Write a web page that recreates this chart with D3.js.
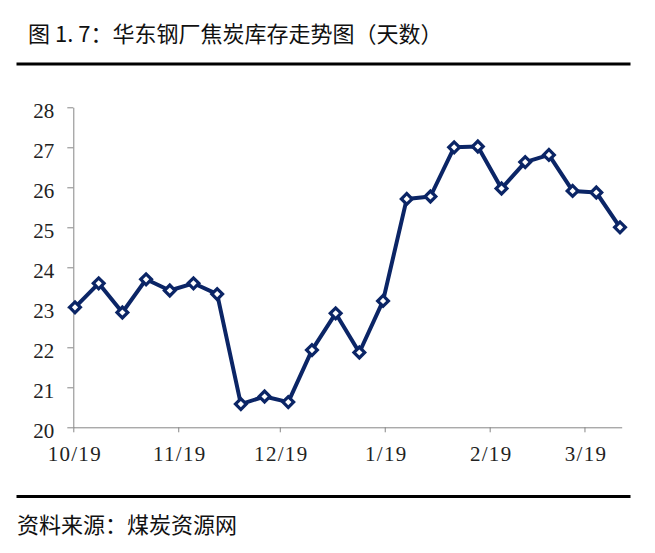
<!DOCTYPE html>
<html>
<head>
<meta charset="utf-8">
<script src="https://cdn.jsdelivr.net/npm/d3@7"></script>
<style>
  body { margin: 0; background: #fff; }
  .axis path, .axis line { stroke: #868686; }
  .axis text { font-family: "Liberation Serif", serif; font-size: 21px; fill: #222; }
  .x-axis text { letter-spacing: 1.3px; }
</style>
</head>
<body>
<div id="chart-area"></div>
<script>
// weekly readings (days of coke inventory)
let dates = ["2018-10-19", "2018-10-26", "2018-11-02", "2018-11-09", "2018-11-16", "2018-11-23",
    "2018-11-30", "2018-12-07", "2018-12-14", "2018-12-21", "2018-12-28", "2019-01-04",
    "2019-01-11", "2019-01-18", "2019-01-25", "2019-02-01", "2019-02-08", "2019-02-15",
    "2019-02-22", "2019-03-01", "2019-03-08", "2019-03-15", "2019-03-22", "2019-03-29"];
let values = [23.0, 23.6, 22.87, 23.7, 23.42, 23.6, 23.33, 20.58, 20.77, 20.63, 21.93, 22.85,
    21.87, 23.16, 25.71, 25.77, 27.0, 27.02, 25.97, 26.63, 26.81, 25.91, 25.87, 25.0];

let tickDates = ["2018-10-19", "2018-11-19", "2018-12-19", "2019-01-19", "2019-02-19", "2019-03-19"];
let tickLabels = ["10/19", "11/19", "12/19", "1/19", "2/19", "3/19"];
let yTicks = [20, 21, 22, 23, 24, 25, 26, 27, 28];

let parse = d3.timeParse("%Y-%m-%d");
let data = dates.map((d, i) => ({ date: parse(d), value: values[i] }));

let width = 655;
let height = 553;
let navy = "#0b2566";

let svg = d3.select("#chart-area")
    .append("svg")
    .attr("width", width)
    .attr("height", height);

// title + rules
svg.append("text")
    .attr("x", 28)
    .attr("y", 42)
    .style("font-family", "'Noto Sans CJK SC', sans-serif")
    .style("font-size", "22px")
    .attr("fill", "#111")
    .text("图 1. 7：华东钢厂焦炭库存走势图（天数）");

svg.append("rect").attr("x", 16.5).attr("y", 62.5).attr("width", 614).attr("height", 3).attr("fill", "#000");
svg.append("rect").attr("x", 16.5).attr("y", 495).attr("width", 614).attr("height", 3).attr("fill", "#000");

svg.append("text")
    .attr("x", 17)
    .attr("y", 533)
    .style("font-family", "'Noto Sans CJK SC', sans-serif")
    .style("font-size", "22px")
    .attr("fill", "#111")
    .text("资料来源：煤炭资源网");

let x = d3.scaleTime()
    .domain([parse("2018-10-19"), parse("2019-03-30")])
    .range([73.3, 621.7]);

let y = d3.scaleLinear()
    .domain([20, 28])
    .range([427.3, 107.3]);

// X axis
let xAxis = d3.axisBottom(x)
    .tickValues(tickDates.map(parse))
    .tickFormat((d, i) => tickLabels[i])
    .tickSizeInner(5)
    .tickSizeOuter(0)
    .tickPadding(14);

svg.append("g")
    .attr("class", "axis x-axis")
    .attr("transform", "translate(0," + y(20) + ")")
    .call(xAxis)
    .selectAll("text")
    .attr("dx", "1px");

// Y axis
let yAxis = d3.axisLeft(y)
    .tickValues(yTicks)
    .tickSizeInner(6)
    .tickSizeOuter(0)
    .tickPadding(13);

svg.append("g")
    .attr("class", "axis y-axis")
    .attr("transform", "translate(" + x.range()[0] + ",0)")
    .call(yAxis)
    .selectAll("text")
    .attr("dy", "0.48em");

// points sit in the middle of their day slot
let px = d => x(d3.timeHour.offset(d.date, 12));

let line = d3.line()
    .x(px)
    .y(d => y(d.value));

svg.append("path")
    .datum(data)
    .attr("fill", "none")
    .attr("stroke", navy)
    .attr("stroke-width", 4)
    .attr("stroke-linejoin", "round")
    .attr("d", line);

let diamond = d3.symbol().type(d3.symbolSquare).size(58);

svg.append("g")
    .selectAll("path")
    .data(data)
    .enter()
    .append("path")
    .attr("d", diamond)
    .attr("transform", d => "translate(" + px(d) + "," + y(d.value) + ") rotate(45)")
    .attr("fill", "#fff")
    .attr("stroke", navy)
    .attr("stroke-width", 3.2);
</script>
</body>
</html>
